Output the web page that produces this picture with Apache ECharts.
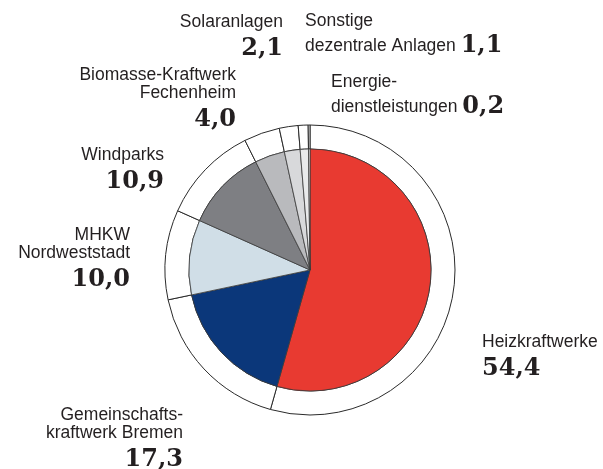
<!DOCTYPE html>
<html><head><meta charset="utf-8">
<script src="https://cdn.jsdelivr.net/npm/echarts@6/dist/echarts.min.js"></script>
<style>html,body{margin:0;padding:0;background:#fff}#c{width:603px;height:469px}</style>
</head><body><div id="c"></div>
<script>
var names = ['Heizkraftwerke', 'Gemeinschafts-\nkraftwerk Bremen', 'MHKW\nNordweststadt', 'Windparks', 'Biomasse-Kraftwerk\nFechenheim', 'Solaranlagen', 'Sonstige\ndezentrale Anlagen', 'Energie-\ndienstleistungen'];
var values = [54.4, 17.3, 10.0, 10.9, 4.0, 2.1, 1.1, 0.2];
var inlineValue = [false, false, false, false, false, false, true, true];
var colors = ['#e83a31', '#0b377a', '#d0dee7', '#7e7f83', '#b9babd', '#d8d9db', '#e9eaeb', '#f5f5f5'];

// label placement (layout only)
var labelPos = [
  {x: 482, y: 333, align: 'left'},
  {x: 183, y: 406, align: 'right'},
  {x: 130, y: 226, align: 'right'},
  {x: 164, y: 146, align: 'right'},
  {x: 236, y: 66, align: 'right'},
  {x: 283, y: 13, align: 'right'},
  {x: 305, y: 12, align: 'left'},
  {x: 331, y: 73, align: 'left'}
];

function fmt(v) { return v.toFixed(1).replace('.', ','); }

var innerData = values.map(function (v, i) {
  return {name: names[i], value: v, itemStyle: {color: colors[i]}};
});
var ringData = values.map(function (v, i) {
  var a = labelPos[i].align;
  var lines = names[i].split('\n');
  var txt;
  if (inlineValue[i]) {
    var last = lines.pop();
    txt = lines.map(function (l) { return '{n' + a + '|' + l + '}'; }).join('\n') +
      '\n{n' + a + '|' + last + ' }{w' + a + '|' + fmt(v) + '}';
  } else {
    txt = lines.map(function (l) { return '{n' + a + '|' + l + '}'; }).join('\n') +
      '\n{v' + a + '|' + fmt(v) + '}';
  }
  return {name: names[i], value: v, label: {formatter: txt}};
});

var nameStyle = {fontFamily: 'Liberation Sans, Arial, sans-serif', fontSize: 17.5, color: '#231f20', lineHeight: 18};
var valStyle = {fontFamily: 'DejaVu Serif, serif', fontWeight: 'bold', fontSize: 24, color: '#231f20', lineHeight: 36};
var valInline = Object.assign({}, valStyle, {lineHeight: 32});
function st(base, a) { var o = Object.assign({}, base); o.align = a; return o; }

var chart = echarts.init(document.getElementById('c'), null, {renderer: 'canvas'});
chart.setOption({
  animation: false,
  series: [
    {
      type: 'pie',
      center: [310, 270],
      radius: [0, 121],
      startAngle: 90,
      clockwise: true,
      silent: true,
      label: {show: false},
      labelLine: {show: false},
      itemStyle: {borderColor: '#3a3a3a', borderWidth: 0.8},
      data: innerData,
      z: 2
    },
    {
      type: 'pie',
      center: [310, 270],
      radius: [121, 145],
      startAngle: 90,
      clockwise: true,
      silent: true,
      itemStyle: {color: '#ffffff', borderColor: '#2a2a2a', borderWidth: 1},
      labelLine: {show: false},
      label: {
        show: true,
        position: 'outside',
        overflow: 'none',
        rich: {
          nleft: st(nameStyle, 'left'), nright: st(nameStyle, 'right'),
          vleft: st(valStyle, 'left'), vright: st(valStyle, 'right'),
          wleft: st(valInline, 'left'), wright: st(valInline, 'right')
        }
      },
      labelLayout: function (p) {
        var lp = labelPos[p.dataIndex];
        return {x: lp.x, y: lp.y, align: lp.align, verticalAlign: 'top', hideOverlap: false};
      },
      data: ringData,
      z: 1
    }
  ]
});
</script>
</body></html>
